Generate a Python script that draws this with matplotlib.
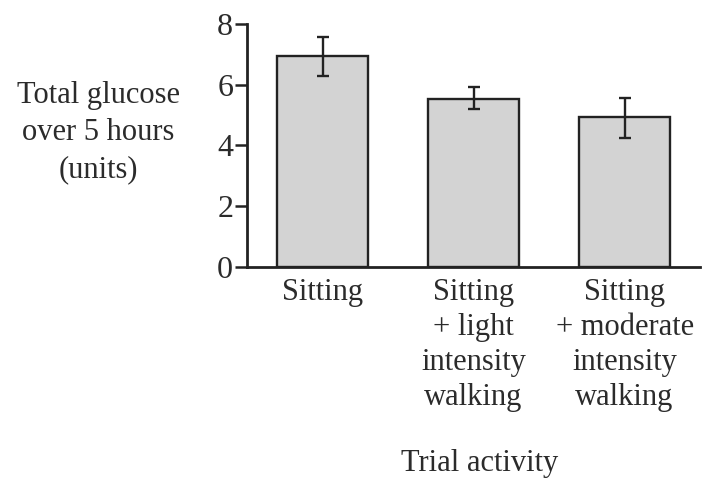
import matplotlib.pyplot as plt
import numpy as np

plt.rcParams['font.family'] = ['Liberation Serif', 'DejaVu Serif']
plt.rcParams['text.color'] = '#2b2b2b'

activities = ['Sitting',
              'Sitting\n+ light\nintensity\nwalking',
              'Sitting\n+ moderate\nintensity\nwalking']
glucose = [6.95, 5.54, 4.95]
err_low = [6.30, 5.21, 4.24]
err_high = [7.57, 5.92, 5.57]

fig = plt.figure(figsize=(7.1, 4.8), dpi=100)
ax = fig.add_axes([0.348, 0.444, 0.638, 0.506])

x = np.arange(len(activities))
yerr = [np.array(glucose) - np.array(err_low), np.array(err_high) - np.array(glucose)]
ax.bar(x, glucose, width=0.6, color='#d3d3d3', edgecolor='#222222', linewidth=1.7, zorder=2)
ax.errorbar(x, glucose, yerr=yerr, fmt='none', ecolor='#222222', elinewidth=1.7,
            capsize=4, capthick=1.7, zorder=3)

ax.set_xlim(-0.5, 2.5)
ax.set_ylim(0, 8)
ax.set_yticks([0, 2, 4, 6, 8])
ax.set_xticks(x)
ax.set_xticklabels(activities, fontsize=22, color='#2b2b2b', linespacing=1.28)
ax.tick_params(axis='y', labelsize=23, length=9, width=1.8, color='#222222',
               labelcolor='#2b2b2b', pad=1)
ax.tick_params(axis='x', length=0, pad=8)
for s in ['top', 'right']:
    ax.spines[s].set_visible(False)
for s in ['left', 'bottom']:
    ax.spines[s].set_linewidth(2.0)
    ax.spines[s].set_color('#222222')

fig.text(98 / 710, 1 - 133 / 480, 'Total glucose\nover 5 hours\n(units)', fontsize=22,
         ha='center', va='center', linespacing=1.37)
fig.text(480 / 710, 1 - 464 / 480, 'Trial activity', fontsize=22, ha='center', va='center')

plt.savefig('out.png', dpi=100)
